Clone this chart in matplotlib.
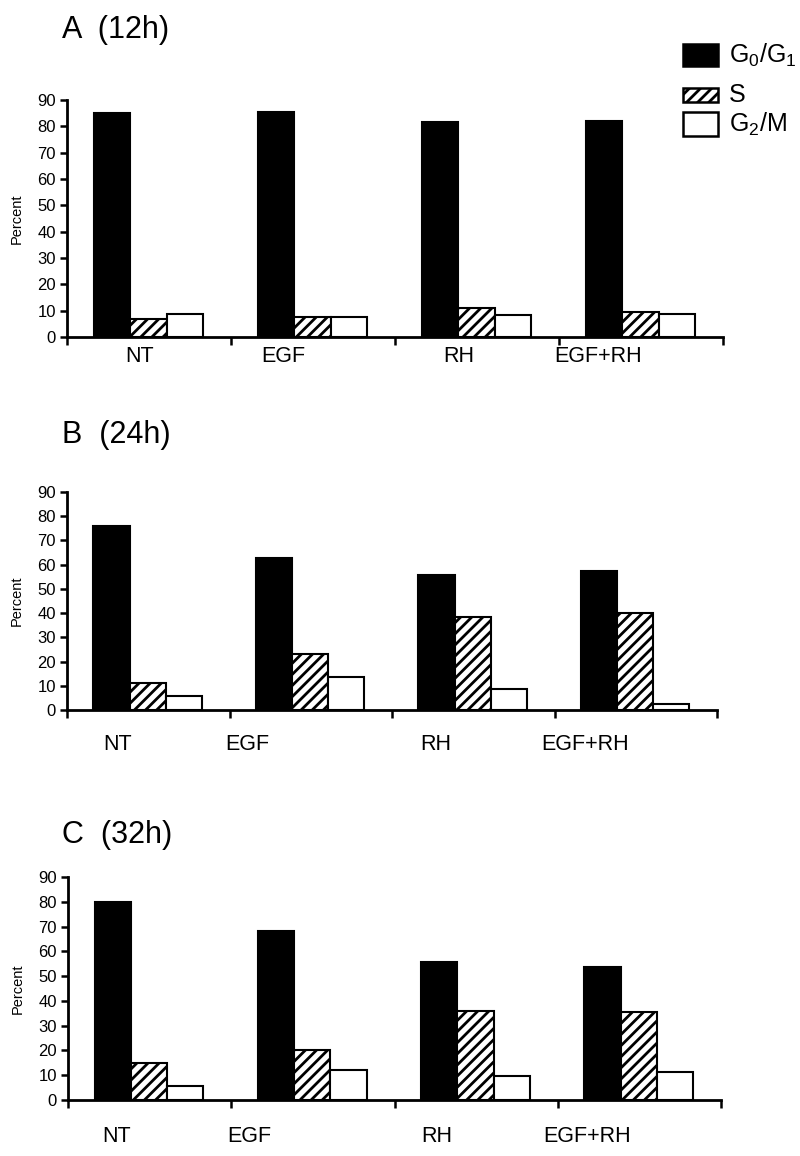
import matplotlib
matplotlib.use("Agg")
import matplotlib.pyplot as plt
from matplotlib.patches import Rectangle
import numpy as np

plt.rcParams['font.family'] = ['Liberation Sans', 'DejaVu Sans']
plt.rcParams['mathtext.fontset'] = 'custom'
plt.rcParams['mathtext.rm'] = 'Liberation Sans'
plt.rcParams['mathtext.it'] = 'Liberation Sans'
plt.rcParams['hatch.linewidth'] = 2.0

# données
categories = ['NT', 'EGF', 'RH', 'EGF+RH']
phases = ['G$_0$/G$_1$', 'S', 'G$_2$/M']
panels = ['A  (12h)', 'B  (24h)', 'C  (32h)']

g0g1_12h = [84.9, 85.3, 81.5, 81.9]
s_12h = [7.0, 7.5, 10.9, 9.5]
g2m_12h = [8.8, 7.5, 8.3, 8.8]

g0g1_24h = [75.8, 62.7, 55.9, 57.2]
s_24h = [11.1, 23.3, 38.6, 39.9]
g2m_24h = [5.6, 13.6, 8.5, 2.6]

g0g1_32h = [79.8, 68.4, 55.6, 53.5]
s_32h = [14.8, 20.2, 36.0, 35.6]
g2m_32h = [5.5, 12.2, 9.7, 11.5]

series = [
    (g0g1_12h, s_12h, g2m_12h),
    (g0g1_24h, s_24h, g2m_24h),
    (g0g1_32h, s_32h, g2m_32h),
]

# mise en page (pixels de la figure)
W, H = 800, 1156
boxes = [
    (67, 723, 337, 100),
    (67, 717, 710, 492),
    (68, 721, 1100, 877),
]
title_y = [30, 435, 835]
label_dy = [19, 35, 36]
label_x = [
    [0.44, 1.32, 2.39, 3.24],
    [0.31, 1.11, 2.27, 3.19],
    [0.30, 1.11, 2.26, 3.18],
]

fig = plt.figure(figsize=(8, 11.56), dpi=100)

x = np.arange(len(categories))
bw = 0.222
offsets = [0.274, 0.496, 0.718]
styles = [
    dict(color='black', edgecolor='black'),
    dict(color='white', edgecolor='black', hatch='///'),
    dict(color='white', edgecolor='black'),
]

for i, (l, r, y0, y90) in enumerate(boxes):
    ax = fig.add_axes([l / W, 1 - y0 / H, (r - l) / W, (y0 - y90) / H])
    for vals, off, st in zip(series[i], offsets, styles):
        ax.bar(x + off, vals, width=bw, linewidth=1.5, **st)
    ax.set_xlim(0, 4)
    ax.set_ylim(0, 90)
    ax.set_yticks(range(0, 91, 10))
    ax.set_xticks(range(0, 5))
    ax.set_xticklabels([])
    for s in ['top', 'right']:
        ax.spines[s].set_visible(False)
    for s in ['left', 'bottom']:
        ax.spines[s].set_linewidth(2)
    ax.tick_params(axis='y', direction='out', length=5, width=1.8, labelsize=12, pad=3)
    ax.tick_params(axis='x', direction='out', length=6, width=1.8)
    ax.set_ylabel('Percent', fontsize=10.5)
    ax.yaxis.set_label_coords(-0.066, 0.5)
    for cat, lx in zip(categories, label_x[i]):
        ax.text(lx, -label_dy[i] / (y0 - y90), cat, transform=ax.get_xaxis_transform(),
                ha='center', va='center', fontsize=15.5)
    fig.text(62 / W, 1 - title_y[i] / H, panels[i], ha='left', va='center', fontsize=22)

# légende
leg = [(44, 66), (88, 102), (112, 136)]
for (t, b), st, lab in zip(leg, styles, phases):
    fig.add_artist(Rectangle((683 / W, 1 - b / H), 35 / W, (b - t) / H,
                             transform=fig.transFigure, linewidth=1.8,
                             facecolor=st['color'], edgecolor='black',
                             hatch=st.get('hatch')))
    fig.text(729 / W, 1 - (t + b) / 2 / H, lab, ha='left', va='center', fontsize=18)

fig.savefig('out.png', dpi=100)
